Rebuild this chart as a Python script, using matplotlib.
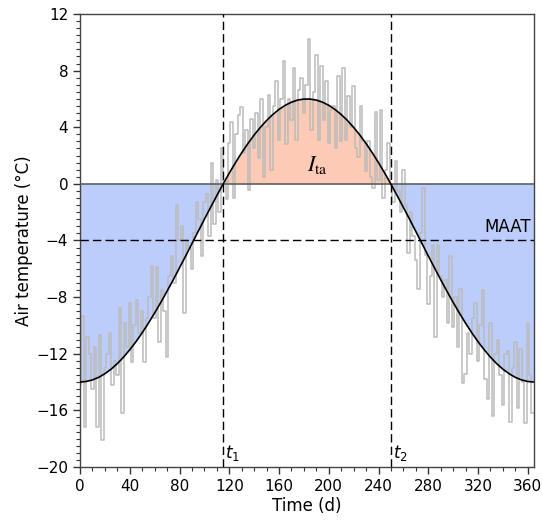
import matplotlib
matplotlib.use("Agg")
import matplotlib.pyplot as plt
import numpy as np
from matplotlib.ticker import MultipleLocator

# fitted annual air temperature curve, read every 5 days
curve_days = list(range(0, 366, 5))
curve_half = [-14.0, -13.96, -13.85, -13.67, -13.41, -13.09, -12.70, -12.24, -11.72, -11.15,
              -10.52, -9.84, -9.12, -8.37, -7.58, -6.77, -5.93, -5.09, -4.22, -3.36,
              -2.50, -1.66, -0.83, -0.02, 0.76, 1.50, 2.20, 2.85, 3.45, 3.99,
              4.48, 4.90, 5.26, 5.55, 5.77, 5.92, 5.99]
curve_temp = curve_half + curve_half[::-1]

# measured daily air temperature (read every 2 days)
obs_days = list(range(0, 365, 2))
obs_temp = [
    -14.2, -9.3, -17.2, -10.8, -12.0, -14.5, -11.5, -17.2, -10.7, -18.1,
    -13.0, -12.0, -10.5, -14.2, -12.5, -13.5, -8.8, -16.2, -9.8, -11.5,
    -8.4, -12.6, -10.0, -8.2, -10.5, -9.0, -12.6, -9.5, -8.0, -5.8,
    -9.5, -5.9, -11.2, -7.5, -9.0, -12.2, -6.5, -5.1, -7.0, -1.5,
    -4.0, -3.0, -9.1, -4.0, -4.5, -6.0, -3.5, -1.3, -2.5, -5.1,
    -1.3, -0.7, -3.7, 1.5, -2.8, 0.3, -2.0, 2.5, 0.2, -1.1,
    2.9, 4.4, -1.0, 3.5, 4.9, 5.4, 2.2, 3.8, -0.4, 4.6,
    2.5, 5.0, 1.8, 6.0, 0.5, 4.0, 6.3, 1.0, 5.5, 7.3,
    3.1, 6.0, 8.7, 2.8, 6.0, 4.5, 8.2, 3.1, 6.6, 7.5,
    5.0, 7.0, 10.2, 3.8, 6.5, 9.1, 3.1, 8.3, 4.5, 7.3,
    2.9, 5.2, 5.5, 2.5, 7.6, 3.0, 8.2, 3.1, 6.2, 4.0,
    6.9, 2.5, 1.9, 5.5, 3.0, 0.9, 3.0, 0.5, -0.3, 5.1,
    0.3, 5.2, -1.0, 1.0, 2.9, 0.0, -1.25, 1.6, -0.5, -2.0,
    1.0, -1.5, -4.9, -2.0, -3.7, -5.4, -7.4, -3.5, -0.3, -5.0,
    -8.5, -6.5, -4.3, -10.8, -4.3, -6.5, -8.0, -6.8, -9.8, -5.1,
    -10.1, -8.0, -11.5, -7.4, -14.1, -13.4, -10.5, -12.0, -9.5, -8.4,
    -12.5, -10.0, -7.5, -13.8, -15.2, -9.8, -16.4, -12.0, -11.0, -13.5,
    -15.6, -12.0, -11.8, -16.8, -13.0, -11.2, -15.8, -11.7, -14.0, -16.9,
    -9.8, -13.5, -16.2,
]

maat = -4.0
t1, t2 = 115, 250

fig = plt.figure(figsize=(5.42, 5.27), dpi=100)
ax = fig.add_axes([0.1476, 0.1139, 0.8376, 0.8595])

cd = np.array(curve_days, dtype=float)
ct = np.array(curve_temp)
ax.fill_between(cd, ct, 0, where=ct <= 0, interpolate=True, color="#bccdfb", lw=0, zorder=1)
ax.fill_between(cd, ct, 0, where=ct >= 0, interpolate=True, color="#fdcab6", lw=0, zorder=1)

ax.plot(obs_days, obs_temp, drawstyle="steps-mid", color="#bbbbbb", lw=1.1, zorder=2)
ax.plot(cd, ct, color="black", lw=1.2, zorder=4)

ax.axhline(0, color="#555555", lw=1.1, zorder=3)
ax.axhline(maat, color="black", lw=1, ls=(0, (6, 3)), zorder=3)
ax.axvline(t1, color="black", lw=1, ls=(0, (6, 3)), zorder=3)
ax.axvline(t2, color="black", lw=1, ls=(0, (6, 3)), zorder=3)

ax.text(t1 + 1.5, -19.7, r"$t_1$", fontsize=12, ha="left", va="bottom", math_fontfamily="dejavusans")
ax.text(t2 + 1.5, -19.7, r"$t_2$", fontsize=12, ha="left", va="bottom", math_fontfamily="dejavusans")
ax.text(363, maat + 0.3, "MAAT", fontsize=12, ha="right", va="bottom")
ax.text(191, 1.3, r"$I_{\rm ta}$", fontsize=16, ha="center", va="center", math_fontfamily="stix")

ax.set_xlim(0, 365)
ax.set_ylim(-20, 12)
ax.xaxis.set_major_locator(MultipleLocator(40))
ax.xaxis.set_minor_locator(MultipleLocator(10))
ax.yaxis.set_major_locator(MultipleLocator(4))
ax.yaxis.set_minor_locator(MultipleLocator(0.5))
ax.tick_params(which="both", direction="out", top=False, right=False, labelsize=11, color="#333333")
ax.tick_params(which="major", length=5, width=1)
ax.tick_params(which="minor", length=3, width=0.8)
for s in ax.spines.values():
    s.set_color("#444444")
    s.set_linewidth(1)

ax.set_xlabel("Time (d)", fontsize=12, labelpad=2)
ax.set_ylabel("Air temperature (°C)", fontsize=12, labelpad=2)

fig.savefig("out.png", dpi=100)
